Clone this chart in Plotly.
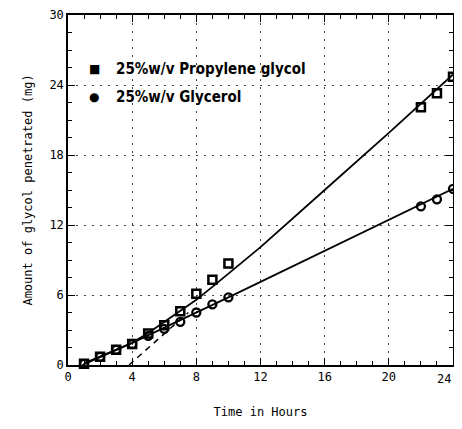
import plotly.graph_objects as go

# Measured points
time_h = [1, 2, 3, 4, 5, 6, 7, 8, 9, 10, 22, 23, 24]
propylene = [0.1, 0.7, 1.3, 1.8, 2.7, 3.4, 4.6, 6.1, 7.3, 8.7, 22.1, 23.3, 24.7]
glycerol = [0.1, 0.7, 1.3, 1.8, 2.5, 3.1, 3.7, 4.5, 5.2, 5.8, 13.6, 14.2, 15.1]

# Fitted curves
prop_fit_x = [1, 2, 3, 4, 5, 6, 7, 8, 9, 12, 16, 20, 24]
prop_fit_y = [0.15, 0.75, 1.3, 1.9, 2.75, 3.7, 4.6, 5.6, 6.7, 10.1, 15.0, 19.9, 24.9]
prop_extrap_x = [3.8, 7.5]
prop_extrap_y = [0.0, 4.5]
gly_fit_x = [0.9, 4, 10, 24]
gly_fit_y = [0.0, 1.9, 5.8, 15.1]

x_ticks = [0, 4, 8, 12, 16, 20, 24]
y_ticks = [0, 6, 12, 18, 24, 30]

legend_names = ["25%w/v Propylene glycol", "25%w/v Glycerol"]
legend_symbols = ["■", "●"]

mono = "DejaVu Sans Mono"
tick_font = dict(family=mono, size=12, color="black")

fig = go.Figure()
fig.add_trace(go.Scatter(x=prop_fit_x, y=prop_fit_y, mode="lines", cliponaxis=False,
                         line=dict(color="black", width=1.8), showlegend=False, hoverinfo="skip"))
fig.add_trace(go.Scatter(x=prop_extrap_x, y=prop_extrap_y, mode="lines",
                         line=dict(color="black", width=1.5, dash="6px,5px"), showlegend=False, hoverinfo="skip"))
fig.add_trace(go.Scatter(x=gly_fit_x, y=gly_fit_y, mode="lines", cliponaxis=False,
                         line=dict(color="black", width=1.8), showlegend=False, hoverinfo="skip"))
fig.add_trace(go.Scatter(x=time_h, y=glycerol, mode="markers", name=legend_names[1], cliponaxis=False,
                         showlegend=False,
                         marker=dict(symbol="circle-open", size=8, color="black", line=dict(width=2.3))))
fig.add_trace(go.Scatter(x=time_h, y=propylene, mode="markers", name=legend_names[0], cliponaxis=False,
                         showlegend=False,
                         marker=dict(symbol="square-open", size=8, color="black", line=dict(width=2.5))))

legend_font = dict(family="DejaVu Sans Condensed", size=15, color="black")
for i, (sym, name) in enumerate(zip(legend_symbols, legend_names)):
    yy = 0.845 - i * 0.08
    fig.add_annotation(xref="paper", yref="paper", x=0.068, y=yy, text=sym, showarrow=False,
                       xanchor="center", yanchor="middle", font=dict(family="DejaVu Sans", size=12, color="black"))
    fig.add_annotation(xref="paper", yref="paper", x=0.12, y=yy, text="<b>" + name + "</b>", showarrow=False,
                       xanchor="left", yanchor="middle", font=legend_font)

# last x tick label sits at the page edge: draw it right-anchored so it stays whole
x_ticktext = [str(v) for v in x_ticks[:-1]] + [""]
fig.add_annotation(xref="x", yref="paper", x=x_ticks[-1], y=0, yshift=-5, text=str(x_ticks[-1]),
                   showarrow=False, xanchor="right", yanchor="top", font=tick_font)

grid = dict(showgrid=True, gridcolor="#444", gridwidth=1, griddash="2px,6px")

fig.update_xaxes(range=[0, 24], tickvals=x_ticks, ticktext=x_ticktext,
                 ticks="inside", ticklen=7, tickwidth=1.3, tickcolor="black", automargin=False,
                 minor=dict(dtick=1, ticks="inside", ticklen=4, tickcolor="black", showgrid=False),
                 showline=True, linecolor="black", linewidth=1.5, mirror="allticks",
                 zeroline=False, title=dict(text="Time in Hours", font=dict(family=mono, size=12, color="black"), standoff=24),
                 tickfont=tick_font, **grid)
fig.update_yaxes(range=[0, 30], tickvals=y_ticks, ticktext=[str(v) for v in y_ticks],
                 ticks="inside", ticklen=7, tickwidth=1.3, tickcolor="black", automargin=False,
                 minor=dict(dtick=1.5, ticks="inside", ticklen=4, tickcolor="black", showgrid=False),
                 showline=True, linecolor="black", linewidth=1.5, mirror="allticks",
                 zeroline=False, title=dict(text="Amount of glycol penetrated (mg)", font=dict(family=mono, size=12, color="black"), standoff=14),
                 tickfont=tick_font, **grid)

# page body adds an 8px offset, so figure is sized/margined to compensate
fig.update_layout(
    width=446, height=413,
    margin=dict(l=60, r=1, t=7, b=56),
    plot_bgcolor="white", paper_bgcolor="white",
    showlegend=False,
)
fig.write_html("out.html")
